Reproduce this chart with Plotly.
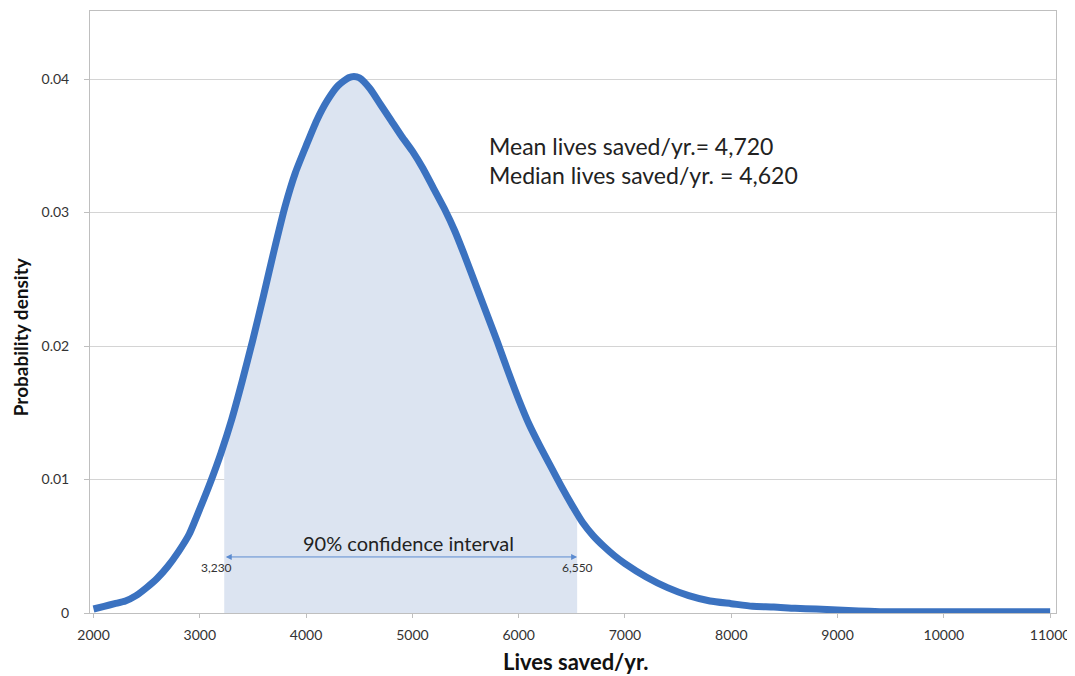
import numpy as np
import plotly.graph_objects as go

# ---- data ----
lives = [2000, 2100, 2200, 2300, 2400, 2500, 2600, 2700, 2800, 2900,
         3000, 3100, 3200, 3300, 3400, 3500, 3600, 3700, 3800, 3900,
         4000, 4100, 4200, 4300, 4400, 4450, 4500, 4600, 4700, 4800,
         4900, 5000, 5100, 5200, 5300, 5400, 5500, 5600, 5700, 5800,
         5900, 6000, 6100, 6200, 6300, 6400, 6500, 6600, 6700, 6800,
         6900, 7000, 7200, 7400, 7600, 7800, 8000, 8200, 8400, 8600,
         8800, 9000, 9200, 9400, 9600, 9800, 10000, 10200, 10400, 10600,
         10800, 11000]
density = [0.0003, 0.0005, 0.0007, 0.0009, 0.0013, 0.0019, 0.0026, 0.0035, 0.0046, 0.0059,
           0.0078, 0.0098, 0.0120, 0.0145, 0.0174, 0.0205, 0.0238, 0.0272, 0.0304, 0.0330,
           0.0350, 0.0369, 0.0384, 0.0395, 0.0401, 0.0402, 0.0401, 0.0393, 0.0381, 0.0369,
           0.0357, 0.0346, 0.0333, 0.0318, 0.0303, 0.0286, 0.0266, 0.0245, 0.0224, 0.0203,
           0.0181, 0.0160, 0.0141, 0.0125, 0.0110, 0.0095, 0.0081, 0.0068, 0.0058, 0.0050,
           0.0043, 0.0037, 0.0027, 0.0019, 0.0013, 0.0009, 0.0007, 0.0005, 0.00045, 0.00035,
           0.0003, 0.00022, 0.00015, 0.0001, 0.0001, 0.0001, 0.0001, 0.0001, 0.0001, 0.0001,
           0.0001, 0.0001]

ci_low, ci_high = 3230, 6550
mean_val, median_val = 4720, 4620

x_ticks = [2000, 3000, 4000, 5000, 6000, 7000, 8000, 9000, 10000, 11000]
x_tick_text = ["2000", "3000", "4000", "5000", "6000", "7000", "8000", "9000", "10000", "11000"]
y_ticks = [0, 0.01, 0.02, 0.03, 0.04]
y_tick_text = ["0", "0.01", "0.02", "0.03", "0.04"]

# ---- shaded CI region built from the curve ----
xs = np.array(lives, dtype=float)
ys = np.array(density, dtype=float)
inside = (xs > ci_low) & (xs < ci_high)
fill_x = [ci_low] + list(xs[inside]) + [ci_high]
fill_y = [float(np.interp(ci_low, xs, ys))] + list(ys[inside]) + [float(np.interp(ci_high, xs, ys))]

FONT = "Lato"
fig = go.Figure()
fig.add_trace(go.Scatter(x=fill_x, y=fill_y, mode="lines", fill="tozeroy",
                         fillcolor="#dce4f1", line=dict(width=0), hoverinfo="skip",
                         showlegend=False))
fig.add_trace(go.Scatter(x=lives, y=density, mode="lines",
                         line=dict(color="#3b72c0", width=7, shape="spline", smoothing=0.6),
                         showlegend=False))

arrow_y = 0.0042
fig.add_annotation(x=ci_high, y=arrow_y, ax=ci_low, ay=arrow_y, xref="x", yref="y",
                   axref="x", ayref="y", showarrow=True, arrowhead=2, startarrowhead=2,
                   arrowside="end+start", arrowwidth=1, arrowsize=1.2, startarrowsize=1.2,
                   arrowcolor="#5b8bd0", text="")
fig.add_annotation(x=(ci_low + ci_high) / 2 + 70, y=arrow_y, yshift=14, xref="x", yref="y",
                   text="90% confidence interval", showarrow=False,
                   font=dict(family=FONT, size=20, color="#222222"))
fig.add_annotation(x=ci_low, y=arrow_y, xref="x", yref="y", yshift=-11, xshift=-8,
                   text=f"{ci_low:,}", showarrow=False,
                   font=dict(family=FONT, size=12, color="#333333"))
fig.add_annotation(x=ci_high, y=arrow_y, xref="x", yref="y", yshift=-11, xshift=0,
                   text=f"{ci_high:,}", showarrow=False,
                   font=dict(family=FONT, size=12, color="#333333"))
fig.add_annotation(x=5700, y=0.0350, xref="x", yref="y", xanchor="left",
                   text=f"Mean lives saved/yr.= {mean_val:,}", showarrow=False,
                   font=dict(family=FONT, size=23, color="#222222"))
fig.add_annotation(x=5700, y=0.0328, xref="x", yref="y", xanchor="left",
                   text=f"Median lives saved/yr. = {median_val:,}", showarrow=False,
                   font=dict(family=FONT, size=23, color="#222222"))

# axis titles as annotations for exact placement
fig.add_annotation(x=0, y=0.458, xref="paper", yref="paper", xanchor="center",
                   yanchor="middle", xshift=-70, textangle=-90,
                   text="<b>Probability density</b>", showarrow=False,
                   font=dict(family=FONT, size=19, color="#111111"))
fig.add_annotation(x=0.5026, y=0, xref="paper", yref="paper", yanchor="middle", yshift=-48,
                   text="<b>Lives saved/yr.</b>", showarrow=False,
                   font=dict(family=FONT, size=22, color="#111111"))

# page body has an 8px margin, so the figure's margins are offset by 8px
fig.update_layout(
    width=1075, height=676,
    margin=dict(l=82, r=27, t=3, b=71, autoexpand=False),
    paper_bgcolor="white", plot_bgcolor="white",
    font=dict(family=FONT, color="#333333"),
    showlegend=False,
)
fig.update_xaxes(range=[1967, 11055], tickvals=x_ticks, ticktext=x_tick_text,
                 ticks="outside", ticklen=4, automargin=False, ticklabelstandoff=5,
                 tickcolor="#bfbfbf", showgrid=False, showline=True, linecolor="#bfbfbf",
                 linewidth=1, mirror=True, zeroline=False,
                 tickfont=dict(family=FONT, size=14, color="#333333"))
fig.update_yaxes(range=[0, 0.0451], tickvals=y_ticks, ticktext=y_tick_text,
                 ticks="outside", ticklen=5, tickcolor="#bfbfbf", automargin=False,
                 ticklabelstandoff=12,
                 showgrid=True, gridcolor="#d4d4d4", gridwidth=1,
                 showline=True, linecolor="#bfbfbf", linewidth=1, mirror=True,
                 zeroline=False,
                 tickfont=dict(family=FONT, size=14, color="#333333"))

fig.write_html("out.html")
